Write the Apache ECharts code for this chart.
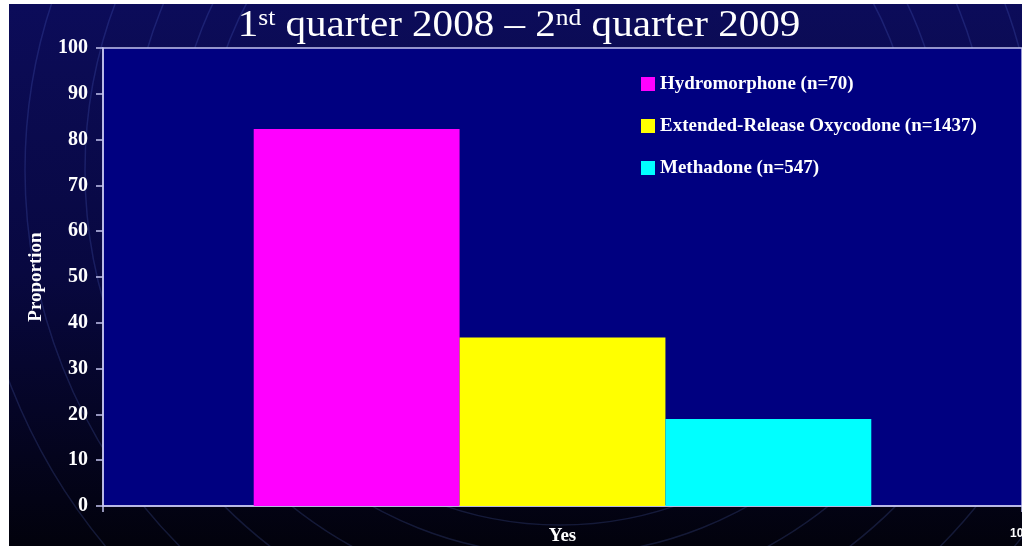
<!DOCTYPE html>
<html>
<head>
<meta charset="utf-8">
<style>
  html, body { margin: 0; padding: 0; background: #ffffff; }
  #chart { width: 1022px; height: 546px; }
</style>
<script src="https://cdn.jsdelivr.net/npm/echarts@6/dist/echarts.min.js"></script>
</head>
<body>
<div id="chart"></div>
<script>
// Opioid share answering "Yes", by product
const categories = ['Yes'];
const seriesNames = [
  'Hydromorphone (n=70)',
  'Extended-Release Oxycodone (n=1437)',
  'Methadone (n=547)'
];
const seriesValues = [82.3, 36.8, 19.0];
const seriesColors = ['#ff00ff', '#ffff00', '#00ffff'];
const yTicks = { min: 0, max: 100, interval: 10 };
const titleText = '1{sup|st} quarter 2008 \u2013 2{sup|nd} quarter 2009';

const serif = '"Liberation Serif", "Times New Roman", serif';

// faint ripple rings behind the plot
const rings = [355, 385, 430, 475, 535, 590].map(function (r) {
  return {
    type: 'circle',
    z: -5,
    shape: { cx: 560, cy: 170, r: r },
    style: { fill: 'none', stroke: 'rgba(110,140,255,0.17)', lineWidth: 1.5 },
    silent: true
  };
});

const chart = echarts.init(document.getElementById('chart'));
chart.setOption({
  animation: false,
  backgroundColor: {
    type: 'linear', x: 0, y: 0, x2: 0, y2: 1,
    colorStops: [
      { offset: 0, color: '#0c0c5a' },
      { offset: 0.5, color: '#080840' },
      { offset: 1, color: '#02020c' }
    ]
  },
  legend: {
    orient: 'vertical',
    left: 641,
    top: 73,
    padding: 0,
    itemWidth: 14,
    itemHeight: 14,
    itemGap: 20,
    icon: 'rect',
    data: seriesNames,
    textStyle: {
      color: '#ffffff',
      fontFamily: serif,
      fontWeight: 'bold',
      fontSize: 19,
      lineHeight: 22
    }
  },
  grid: {
    left: 103,
    top: 48,
    width: 922,
    bottom: 40,
    show: true,
    backgroundColor: '#000080',
    borderColor: '#c4c4ee',
    borderWidth: 1.5
  },
  xAxis: {
    type: 'category',
    data: categories,
    axisLine: { lineStyle: { color: '#c4c4ee', width: 1.5 } },
    axisTick: { show: true, length: 6, lineStyle: { color: '#c4c4ee', width: 1.5 } },
    axisLabel: {
      color: '#ffffff',
      fontFamily: serif,
      fontWeight: 'bold',
      fontSize: 19,
      margin: 21
    }
  },
  yAxis: {
    type: 'value',
    min: yTicks.min,
    max: yTicks.max,
    interval: yTicks.interval,
    name: 'Proportion',
    nameLocation: 'middle',
    nameGap: 57,
    nameTextStyle: {
      color: '#ffffff',
      fontFamily: serif,
      fontWeight: 'bold',
      fontSize: 19
    },
    splitLine: { show: false },
    axisLine: { show: true, lineStyle: { color: '#c4c4ee', width: 1.5 } },
    axisTick: { show: true, length: 7, lineStyle: { color: '#c4c4ee', width: 1.5 } },
    axisLabel: {
      color: '#ffffff',
      fontFamily: serif,
      fontWeight: 'bold',
      fontSize: 20,
      margin: 15
    }
  },
  series: seriesNames.map(function (name, i) {
    return {
      name: name,
      type: 'bar',
      barGap: '0%',
      barCategoryGap: '32.8%',
      itemStyle: { color: seriesColors[i] },
      data: [seriesValues[i]]
    };
  }),
  graphic: rings.concat([
    {
      // slide title, set slightly wide
      type: 'text', z: 50, x: 519, y: 26, scaleX: 1.11, scaleY: 1,
      style: {
        text: titleText,
        fill: '#ffffff',
        font: '37px ' + serif,
        align: 'center',
        verticalAlign: 'middle',
        rich: {
          sup: { fontSize: 23, fontFamily: serif, fill: '#ffffff', verticalAlign: 'top', padding: [0, 0, 12, 0] }
        }
      }
    },
    { type: 'rect', z: 100, shape: { x: 0, y: 0, width: 9, height: 546 }, style: { fill: '#ffffff' } },
    { type: 'rect', z: 100, shape: { x: 0, y: 0, width: 1022, height: 4 }, style: { fill: '#ffffff' } },
    {
      type: 'text', z: 50, left: 1010, top: 528,
      style: { text: '10', fill: '#ffffff', font: 'bold 12px "Liberation Sans", Arial, sans-serif' }
    }
  ])
});
</script>
</body>
</html>
